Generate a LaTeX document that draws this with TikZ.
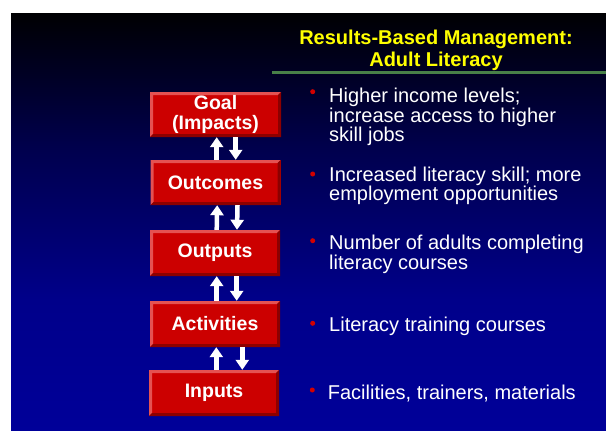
\documentclass[tikz,border=0pt]{standalone}
\usepackage{fontspec}
\setmainfont{Liberation Sans}
\usetikzlibrary{arrows.meta}

\definecolor{bgblue}{RGB}{0,0,153}
\definecolor{bgmidlow}{RGB}{0,0,138}
\definecolor{bgmidhigh}{RGB}{0,0,78}
\definecolor{bgtop}{RGB}{0,0,2}
\definecolor{boxred}{RGB}{204,0,0}
\definecolor{boxlight}{RGB}{228,82,82}
\definecolor{boxdark}{RGB}{140,0,0}
\definecolor{dotred}{RGB}{210,0,0}
\definecolor{rulegreen}{RGB}{72,128,72}
\definecolor{titleyellow}{RGB}{255,255,0}

% slide background: black at the top fading into deep blue
\pgfdeclareverticalshading{slidebg}{100bp}{%
  color(0bp)=(bgblue); color(25bp)=(bgblue); color(40.7bp)=(bgmidlow);
  color(58.6bp)=(bgmidhigh); color(75bp)=(bgtop); color(100bp)=(bgtop)}

\tikzset{
  stage/.style={
    minimum width=130pt, minimum height=46pt, inner sep=0pt,
    fill=boxred, text=white, align=center,
    font=\bfseries\fontsize{19.5}{20.5}\selectfont,
    path picture={
      \fill[boxlight]
        (path picture bounding box.south west) --
        (path picture bounding box.north west) --
        (path picture bounding box.north east) --
        ([xshift=-3pt,yshift=-3pt]path picture bounding box.north east) --
        ([xshift=3pt,yshift=-3pt]path picture bounding box.north west) --
        ([xshift=3pt,yshift=3pt]path picture bounding box.south west) -- cycle;
      \fill[boxdark]
        (path picture bounding box.south west) --
        (path picture bounding box.south east) --
        (path picture bounding box.north east) --
        ([xshift=-3pt,yshift=-3pt]path picture bounding box.north east) --
        ([xshift=-3pt,yshift=3pt]path picture bounding box.south east) --
        ([xshift=3pt,yshift=3pt]path picture bounding box.south west) -- cycle;
    }},
  flow/.style={white, line width=4.5pt, -{Triangle[width=13pt,length=10pt]}},
  % multi-line texts are placed by the baseline of their last line
  item/.style={text=white, font=\fontsize{20}{19.5}\selectfont,
    align=left, inner sep=0pt, anchor=base west},
  dot/.style={circle, fill=dotred, inner sep=0pt, minimum size=5pt},
  heading/.style={text=titleyellow, font=\bfseries\fontsize{20}{22}\selectfont,
    align=center, inner sep=0pt, anchor=base}
}

\begin{document}
\begin{tikzpicture}[x=1pt,y=-1pt]
  \useasboundingbox (0,0) rectangle (606,431);
  \fill[white] (0,0) rectangle (606,431);
  \shade[shading=slidebg] (11,13) rectangle (606,431);

  % title and rule
  \node[heading] (title) at (436,66) {Results-Based Management:\\Adult Literacy};
  \coordinate (ruleL) at (272,72.7);
  \coordinate (ruleR) at (606,72.7);
  \draw[rulegreen, line width=2.5pt] (ruleL) -- (ruleR);

  % results chain
  \node[stage, minimum width=131pt, minimum height=45pt] (goal) at (215.5,114.5) {Goal\\(Impacts)};
  \node[stage, minimum height=45pt] (outcomes) at (215.5,182.5) {Outcomes};
  \node[stage] (outputs) at (215,253) {Outputs};
  \node[stage] (activities) at (215,324) {Activities};
  \node[stage] (inputs) at (214,393) {Inputs};

  % two-way links between the stages
  \draw[flow] ([xshift=1.2pt]outcomes.north) -- ([xshift=1.2pt]goal.south);
  \draw[flow] ([xshift=20.2pt]goal.south) -- ([xshift=20.2pt]outcomes.north);
  \draw[flow] ([xshift=1.7pt]outputs.north) -- ([xshift=1.7pt]outcomes.south);
  \draw[flow] ([xshift=22pt]outcomes.south) -- ([xshift=22pt]outputs.north);
  \draw[flow] ([xshift=1.7pt]activities.north) -- ([xshift=1.7pt]outputs.south);
  \draw[flow] ([xshift=21.7pt]outputs.south) -- ([xshift=21.7pt]activities.north);
  \draw[flow] ([xshift=2.3pt]inputs.north) -- ([xshift=1.3pt]activities.south);
  \draw[flow] ([xshift=27.3pt]activities.south) -- ([xshift=28.3pt]inputs.north);

  % descriptions
  \node[dot] (d1) at (312.7,91.7) {};
  \node[item] (t1) at (329,141.7) {Higher income levels;\\increase access to higher\\skill jobs};
  \node[dot] (d2) at (312.7,174) {};
  \node[item] (t2) at (329,200.5) {Increased literacy skill; more\\employment opportunities};
  \node[dot] (d3) at (312.7,240.7) {};
  \node[item] (t3) at (329,269.3) {Number of adults completing\\literacy courses};
  \node[dot] (d4) at (312.7,323.3) {};
  \node[item] (t4) at (329,331) {Literacy training courses};
  \node[dot] (d5) at (312.3,390) {};
  \node[item] (t5) at (327.7,399) {Facilities, trainers, materials};
\end{tikzpicture}
\end{document}
